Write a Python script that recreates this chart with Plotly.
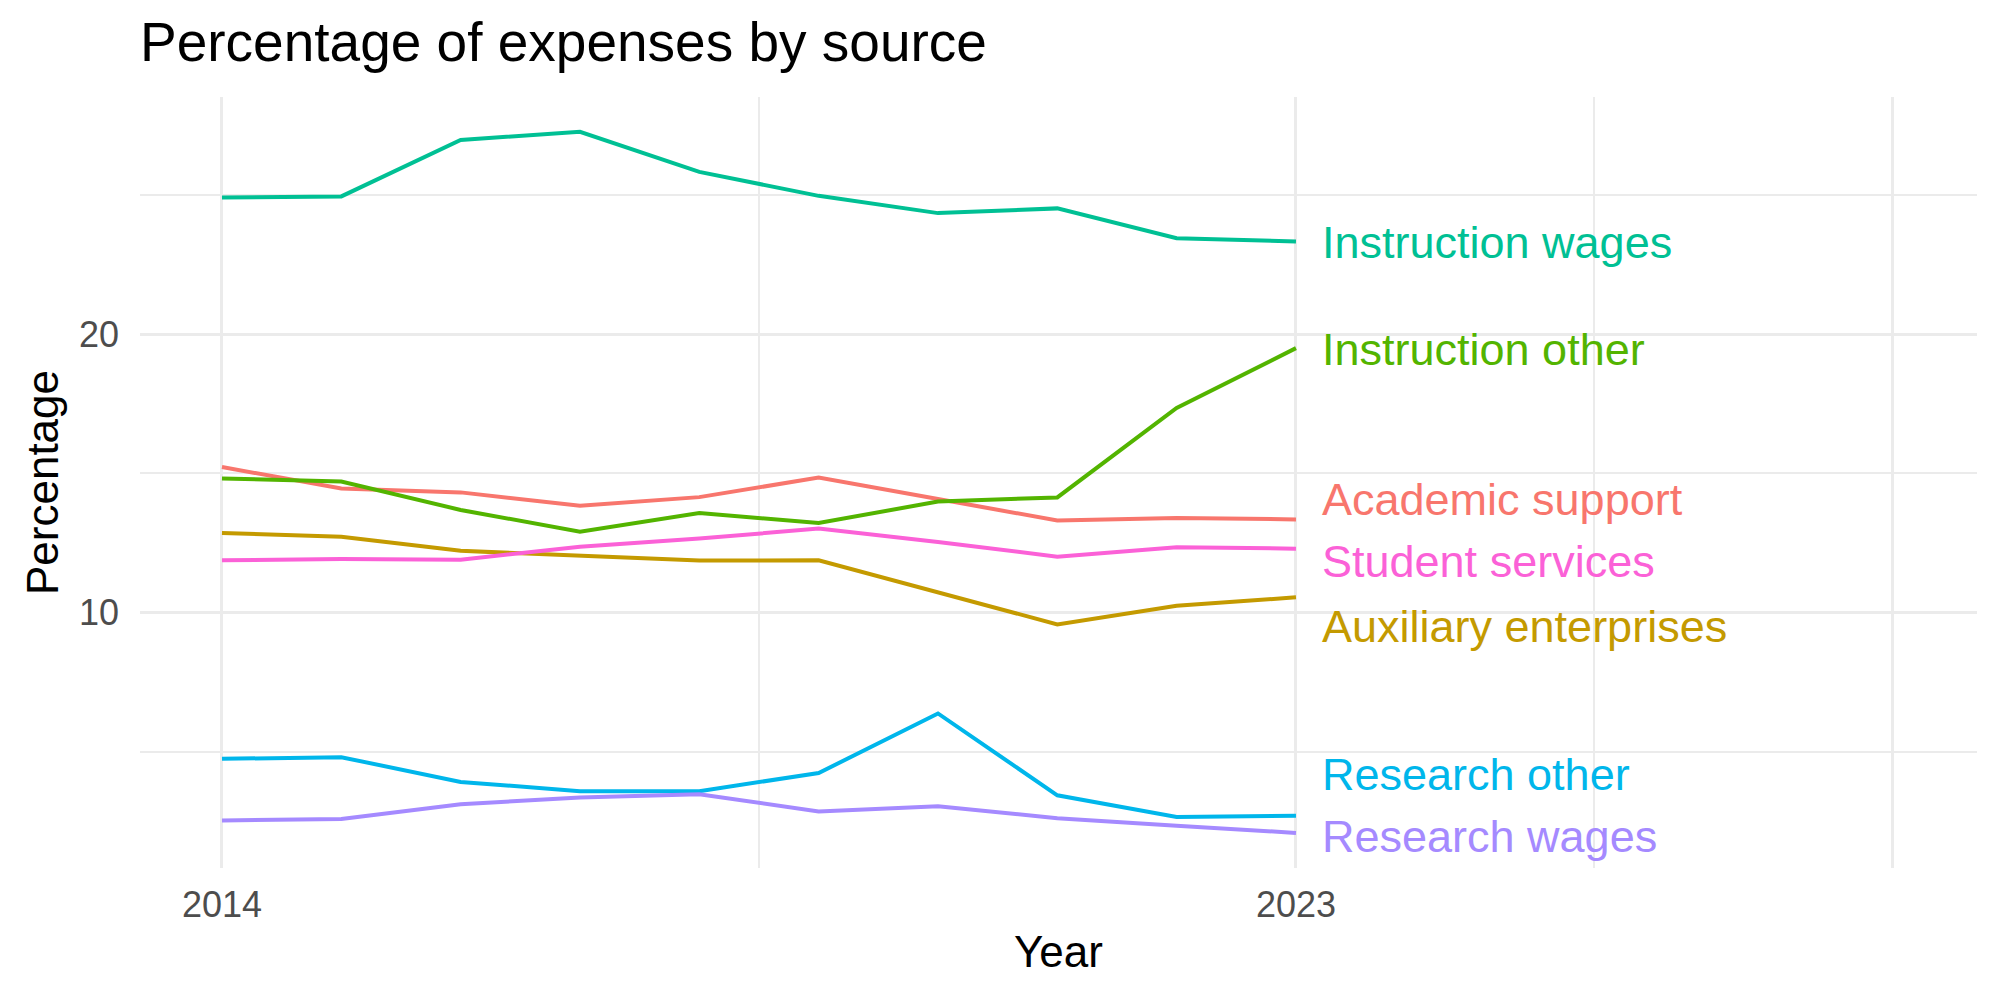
import plotly.graph_objects as go

years = list(range(2014, 2024))

series_names = [
    "Academic support",
    "Auxiliary enterprises",
    "Instruction other",
    "Instruction wages",
    "Research other",
    "Research wages",
    "Student services",
]

academic_support = [15.23, 14.46, 14.32, 13.84, 14.15, 14.85, 14.08, 13.31, 13.40, 13.35]
auxiliary_enterprises = [12.86, 12.73, 12.22, 12.05, 11.87, 11.88, 10.73, 9.58, 10.25, 10.55]
instruction_other = [14.82, 14.71, 13.69, 12.91, 13.58, 13.22, 13.99, 14.14, 17.35, 19.50]
instruction_wages = [24.91, 24.95, 26.98, 27.27, 25.83, 24.97, 24.35, 24.52, 23.45, 23.33]
research_other = [4.75, 4.81, 3.92, 3.59, 3.59, 4.24, 6.38, 3.44, 2.66, 2.71]
research_wages = [2.54, 2.59, 3.12, 3.36, 3.48, 2.86, 3.05, 2.62, 2.35, 2.09]
student_services = [11.88, 11.93, 11.90, 12.37, 12.66, 13.02, 12.54, 12.01, 12.35, 12.30]

series_values = [
    academic_support,
    auxiliary_enterprises,
    instruction_other,
    instruction_wages,
    research_other,
    research_wages,
    student_services,
]

colors = ["#F8766D", "#C49A00", "#53B400", "#00C094", "#00B6EB", "#A58AFF", "#FB61D7"]

# repelled label positions (y, in data units) at the right end of the lines
label_y = [14.05, 9.52, 19.44, 23.30, 4.20, 1.95, 11.82]
label_x = 2023.2

x_tickvals = [2014, 2023, 2028]
x_ticktext = ["2014", "2023", ""]
x_minor = [2018.5, 2025.5]
y_tickvals = [10, 20]
y_minor = [5, 15, 25]

FONT = "Liberation Sans"

fig = go.Figure()
for name, vals, col in zip(series_names, series_values, colors):
    fig.add_trace(go.Scatter(x=years, y=vals, mode="lines", name=name,
                             line=dict(color=col, width=4), showlegend=False))

for name, ly, col in zip(series_names, label_y, colors):
    fig.add_annotation(x=label_x, y=ly, xref="x", yref="y", text=name,
                       showarrow=False, xanchor="left", yanchor="middle",
                       font=dict(family=FONT, size=45, color=col))

fig.update_layout(
    width=2000, height=1000,
    margin=dict(l=140, r=23, t=97, b=132),
    paper_bgcolor="white", plot_bgcolor="white",
    font=dict(family=FONT, color="black"),
    title=dict(text="Percentage of expenses by source", x=0.07, xref="container",
               xanchor="left", y=0.958, yref="container", yanchor="middle",
               font=dict(family=FONT, size=55, color="black")),
)
fig.update_xaxes(
    range=[2013.313, 2028.707], tickmode="array", tickvals=x_tickvals, ticktext=x_ticktext,
    showgrid=True, gridcolor="#EBEBEB", gridwidth=3, zeroline=False, showline=False,
    ticks="", ticklabelstandoff=12, tickfont=dict(family=FONT, size=36, color="#4D4D4D"),
    minor=dict(tickmode="array", tickvals=x_minor, showgrid=True, gridcolor="#EBEBEB", gridwidth=1.5, ticks=""),
    title=dict(text="Year", font=dict(family=FONT, size=44, color="black"), standoff=12),
)
fig.update_yaxes(
    range=[0.83, 28.52], tickmode="array", tickvals=y_tickvals,
    showgrid=True, gridcolor="#EBEBEB", gridwidth=3, zeroline=False, showline=False,
    ticks="", ticklabelstandoff=20, tickfont=dict(family=FONT, size=36, color="#4D4D4D"),
    minor=dict(tickmode="array", tickvals=y_minor, showgrid=True, gridcolor="#EBEBEB", gridwidth=1.5, ticks=""),
    title=dict(text="Percentage", font=dict(family=FONT, size=44, color="black"), standoff=6),
)

fig.write_html("out.html")
